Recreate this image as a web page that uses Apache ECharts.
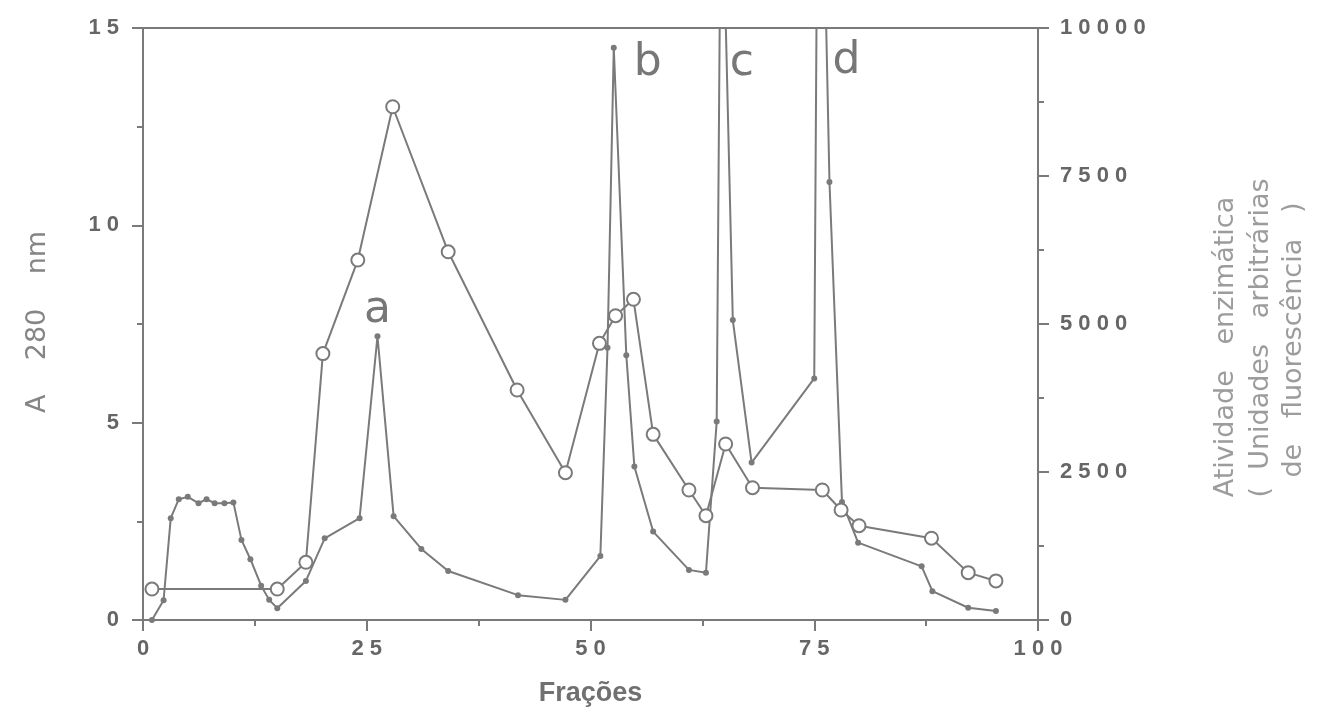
<!DOCTYPE html>
<html>
<head>
    <meta charset="utf-8">
    <title>Fracoes</title>
    <script src="https://cdn.jsdelivr.net/npm/echarts@6/dist/echarts.min.js"></script>
</head>
<body style="margin:0;background:#fff;">
    <div id="main" style="width:1318px;height:715px;"></div>
    <script type="text/javascript">
        // A 280 nm (pontos cheios, eixo esquerdo)
        let a280Frac = [1, 2.3, 3.1, 4.0, 5.0, 6.2, 7.1, 8.0, 9.1, 10.1, 11.0, 12.0, 13.2, 14.1, 15.0,
            18.2, 20.3, 24.2, 26.2, 28.0, 31.1, 34.1, 41.9, 47.2, 51.1, 51.9, 52.6, 54.0, 54.9, 57.0,
            61.0, 62.9, 64.1, 64.6, 65.9, 68.0, 75.0, 75.5, 76.7, 78.1, 79.9, 87.0, 88.2, 92.2, 95.3];
        let a280Val = [0, 0.5, 2.58, 3.06, 3.12, 2.96, 3.06, 2.96, 2.96, 2.98, 2.03, 1.54, 0.87, 0.51, 0.30,
            0.99, 2.07, 2.58, 7.19, 2.63, 1.80, 1.24, 0.63, 0.51, 1.62, 6.9, 14.5, 6.71, 3.89, 2.24,
            1.27, 1.20, 5.03, 20, 7.6, 3.99, 6.12, 24, 11.1, 2.99, 1.96, 1.36, 0.73, 0.31, 0.23];

        // atividade enzimatica (circulos abertos, eixo direito)
        let actFrac = [1.0, 15.0, 18.2, 20.1, 24.0, 27.9, 34.1, 41.8, 47.2, 51.0, 52.8, 54.8, 57.0,
            61.0, 62.9, 65.1, 68.1, 75.9, 78.0, 80.0, 88.1, 92.2, 95.3];
        let actVal = [523, 523, 975, 4500, 6080, 8670, 6220, 3885, 2488, 4673, 5140, 5417, 3136,
            2196, 1762, 2973, 2235, 2196, 1858, 1593, 1382, 800, 660];

        // rotulos dos picos
        let peakNames = ['a', 'b', 'c', 'd'];
        let peakFrac = [26.2, 56.4, 66.9, 78.6];
        let peakVal = [7.85, 14.1, 14.1, 14.15];

        let myChart = echarts.init(document.getElementById('main'));

        let grey = '#7a7a7a';
        let font = 'Liberation Sans, Arial, sans-serif';
        let wide = 'DejaVu Sans, sans-serif';
        let spaced = function (v) { return String(v).split('').join(' '); };

        let a280Data = a280Frac.map(function (f, i) { return [f, a280Val[i]]; });
        let actData = actFrac.map(function (f, i) { return [f, actVal[i]]; });
        let peakData = peakNames.map(function (n, i) {
            return { name: n, coord: [peakFrac[i], peakVal[i]] };
        });

        let axisCommon = {
            axisLine: { show: true, lineStyle: { color: grey, width: 2 } },
            axisTick: { show: true, length: 11, lineStyle: { color: grey, width: 2 } },
            minorTick: { show: true, splitNumber: 2, length: 6, lineStyle: { color: grey, width: 2 } },
            splitLine: { show: false },
            axisLabel: { color: '#666', fontFamily: font, fontWeight: 'bold', fontSize: 22, formatter: spaced }
        };

        let option = {
            animation: false,
            grid: {
                left: 143, right: 280, top: 28, bottom: 95,
                show: true, borderColor: grey, borderWidth: 2
            },
            xAxis: Object.assign({}, axisCommon, {
                type: 'value', min: 0, max: 100, interval: 25,
                axisLabel: Object.assign({}, axisCommon.axisLabel, { margin: 18 }),
                name: 'Frações', nameLocation: 'middle', nameGap: 60,
                nameTextStyle: { color: '#707070', fontFamily: font, fontWeight: 'bold', fontSize: 27 }
            }),
            yAxis: [
                Object.assign({}, axisCommon, {
                    type: 'value', min: 0, max: 15, interval: 5, position: 'left',
                    axisLabel: Object.assign({}, axisCommon.axisLabel, { margin: 24 })
                }),
                Object.assign({}, axisCommon, {
                    type: 'value', min: 0, max: 10000, interval: 2500, position: 'right',
                    axisLabel: Object.assign({}, axisCommon.axisLabel, { margin: 22 })
                })
            ],
            graphic: [
                {
                    type: 'text', x: 38, y: 322, rotation: Math.PI / 2,
                    style: { text: 'A    280    nm', font: '27px ' + wide, fill: '#858585', align: 'center', verticalAlign: 'middle' }
                },
                {
                    type: 'text', x: 1226, y: 347, rotation: Math.PI / 2,
                    style: { text: 'Atividade   enzimática', font: '27px ' + wide, fill: '#9c9c9c', align: 'center', verticalAlign: 'middle' }
                },
                {
                    type: 'text', x: 1261, y: 338, rotation: Math.PI / 2,
                    style: { text: '(  Unidades   arbitrárias', font: '27px ' + wide, fill: '#9c9c9c', align: 'center', verticalAlign: 'middle' }
                },
                {
                    type: 'text', x: 1294, y: 340, rotation: Math.PI / 2,
                    style: { text: 'de   fluorescência   )', font: '27px ' + wide, fill: '#9c9c9c', align: 'center', verticalAlign: 'middle' }
                }
            ],
            series: [
                {
                    name: 'A 280 nm',
                    type: 'line',
                    yAxisIndex: 0,
                    data: a280Data,
                    symbol: 'circle',
                    symbolSize: 6,
                    lineStyle: { color: grey, width: 2 },
                    itemStyle: { color: grey },
                    markPoint: {
                        symbol: 'circle',
                        symbolSize: 1,
                        itemStyle: { color: 'rgba(0,0,0,0)' },
                        label: {
                            show: true, position: 'inside', formatter: '{b}',
                            color: '#777', fontFamily: wide, fontSize: 44
                        },
                        data: peakData
                    }
                },
                {
                    name: 'Atividade enzimática',
                    type: 'line',
                    yAxisIndex: 1,
                    data: actData,
                    symbol: 'circle',
                    symbolSize: 13,
                    lineStyle: { color: grey, width: 2 },
                    itemStyle: { color: '#fff', borderColor: grey, borderWidth: 2 }
                }
            ]
        };

        myChart.setOption(option);
    </script>
</body>
</html>
